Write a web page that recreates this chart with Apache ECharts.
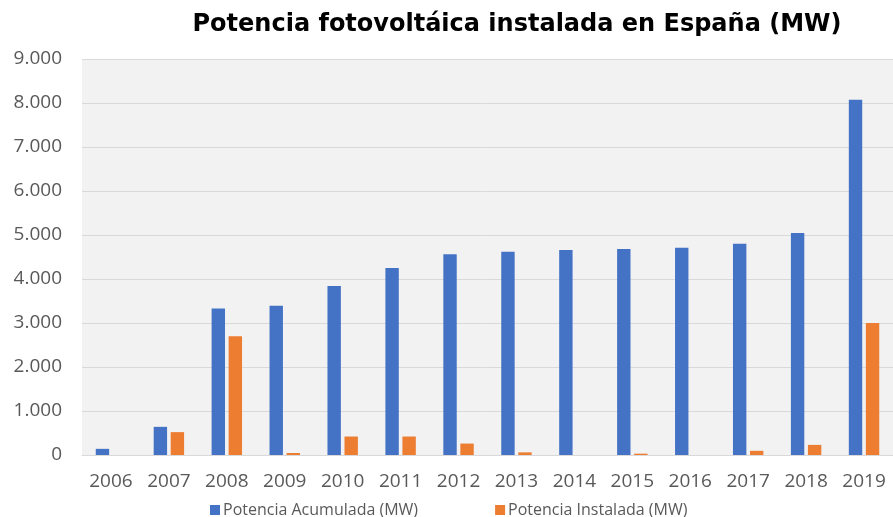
<!DOCTYPE html>
<html>
<head>
<meta charset="utf-8">
<script src="https://cdn.jsdelivr.net/npm/echarts@6/dist/echarts.min.js"></script>
<style>html,body{margin:0;padding:0;background:#fff}#c{width:893px;height:517px}</style>
</head>
<body>
<div id="c"></div>
<script>
const categories = ['2006','2007','2008','2009','2010','2011','2012','2013','2014','2015','2016','2017','2018','2019'];
const acumulada = [140, 640, 3330, 3390, 3840, 4250, 4560, 4620, 4660, 4680, 4710, 4800, 5045, 8075];
const instalada = [0, 520, 2700, 45, 420, 420, 260, 60, 0, 30, 0, 95, 230, 3000];
const seriesNames = ['Potencia Acumulada (MW)', 'Potencia Instalada (MW)'];
const titleText = 'Potencia fotovoltáica instalada en España (MW)';

const chart = echarts.init(document.getElementById('c'), null, {renderer: 'canvas'});
const fmt = v => String(v).replace(/\B(?=(\d{3})+(?!\d))/g, '.');
chart.setOption({
  animation: false,
  backgroundColor: '#ffffff',
  title: {
    text: titleText,
    left: 512, top: 8, textAlign: 'center',
    textStyle: {fontFamily: 'DejaVu Sans', fontWeight: 'bold', fontSize: 24, color: '#000'}
  },
  legend: {
    data: seriesNames,
    left: 205, top: 497,
    itemWidth: 10, itemHeight: 10, itemGap: 77,
    icon: 'rect',
    textStyle: {fontFamily: 'Open Sans', fontSize: 16, color: '#595959', padding: [0,0,0,-2]}
  },
  grid: {left: 82, top: 59, width: 819, height: 396, show: true, backgroundColor: '#f2f2f2', borderWidth: 0, containLabel: false},
  xAxis: {
    type: 'category', data: categories,
    axisLine: {show: true, lineStyle: {color: '#d9d9d9', width: 1}},
    axisTick: {show: false},
    axisLabel: {fontFamily: 'Open Sans', fontSize: 19, color: '#595959', margin: 17}
  },
  yAxis: {
    type: 'value', min: 0, max: 9000, interval: 1000,
    axisLine: {show: false}, axisTick: {show: false},
    splitLine: {lineStyle: {color: '#d9d9d9', width: 1}},
    axisLabel: {fontFamily: 'Open Sans', fontSize: 19, color: '#595959', margin: 20, formatter: fmt}
  },
  series: [
    {name: seriesNames[0], type: 'bar', data: acumulada, barWidth: 13.4, barGap: '27%', itemStyle: {color: '#4472c4'}},
    {name: seriesNames[1], type: 'bar', data: instalada, barWidth: 13.4, barGap: '27%', itemStyle: {color: '#ed7d31'}}
  ]
});
</script>
</body>
</html>
